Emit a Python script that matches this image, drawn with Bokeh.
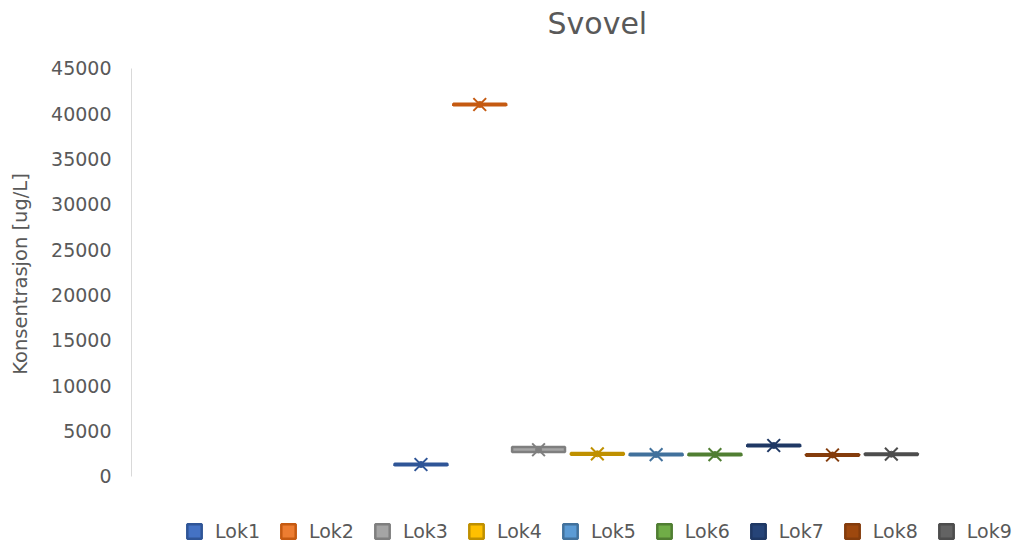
from bokeh.plotting import figure
from bokeh.models import Range1d, FixedTicker, Legend, LegendItem, ColumnDataSource, Label
from bokeh.embed import file_html
from bokeh.resources import INLINE

title_text = "Svovel"
series = ["Lok1", "Lok2", "Lok3", "Lok4", "Lok5", "Lok6", "Lok7", "Lok8", "Lok9"]
positions = [1, 2, 3, 4, 5, 6, 7, 8, 9]
q1 = [1240, 40940, 2700, 2410, 2330, 2330, 3330, 2280, 2370]
q3 = [1410, 41110, 3250, 2590, 2510, 2510, 3500, 2460, 2550]
mean = [1320, 41030, 2950, 2500, 2420, 2420, 3420, 2370, 2460]
fill_colors = ["#4472C4", "#ED7D31", "#A5A5A5", "#FFC000", "#5B9BD5",
               "#70AD47", "#264478", "#9E480E", "#636363"]
line_colors = ["#2F5597", "#C55A11", "#7F7F7F", "#BF9000", "#41719C",
               "#507E32", "#1F3864", "#843C0C", "#4D4D4D"]
y_ticks = [0, 5000, 10000, 15000, 20000, 25000, 30000, 35000, 40000, 45000]

FONT = "DejaVu Sans"
TXT = "#595959"

# frame fills the full height; 0..45000 occupies the middle band, leaving room
# for the title above and the legend below
p = figure(width=1019, height=547, output_backend="svg", toolbar_location=None,
           x_range=Range1d(-3.923, 11.18), y_range=Range1d(-7831, 52500),
           x_axis_location=None,
           min_border_left=131, min_border_right=0,
           min_border_top=0, min_border_bottom=0)

p.outline_line_color = None
p.xgrid.visible = False
p.ygrid.visible = False

ax = p.yaxis[0]
ax.ticker = FixedTicker(ticks=y_ticks)
ax.bounds = (0, 45000)
ax.axis_line_color = "#D9D9D9"
ax.major_tick_line_color = None
ax.minor_tick_line_color = None
ax.major_label_text_font = FONT
ax.major_label_text_font_size = "19px"
ax.major_label_text_color = TXT
ax.major_label_standoff = 14
ax.axis_label = "Konsentrasjon [ug/L]"
ax.axis_label_text_font = FONT
ax.axis_label_text_font_size = "19.5px"
ax.axis_label_text_font_style = "normal"
ax.axis_label_text_color = TXT
ax.axis_label_standoff = 16

items = []
for i, name in enumerate(series):
    src = ColumnDataSource(dict(x=[positions[i]], q1=[q1[i]], q3=[q3[i]], mean=[mean[i]]))
    box = p.vbar(x="x", width=0.9, bottom="q1", top="q3", source=src,
                 fill_color=fill_colors[i], line_color=line_colors[i], line_width=2.5)
    p.scatter(x="x", y="mean", source=src, marker="x", size=18,
              line_color=line_colors[i], line_width=2)
    p.scatter(x="x", y="mean", source=src, marker="circle", size=6,
              fill_color=line_colors[i], line_color=line_colors[i])
    items.append(LegendItem(label=name, renderers=[box]))

title = Label(x=4.0, y=49950, text=title_text, text_align="center",
              text_baseline="middle", text_font=FONT, text_font_size="30px",
              text_color=TXT)
p.add_layout(title)

legend = Legend(items=items, orientation="horizontal", location=(49, 0),
                glyph_width=18, glyph_height=18, label_standoff=12, spacing=19,
                padding=5, margin=0, border_line_alpha=0, background_fill_alpha=0,
                label_text_font=FONT, label_text_font_size="19px",
                label_text_color=TXT)
p.add_layout(legend)

open("out.html", "w").write(file_html(p, INLINE))
